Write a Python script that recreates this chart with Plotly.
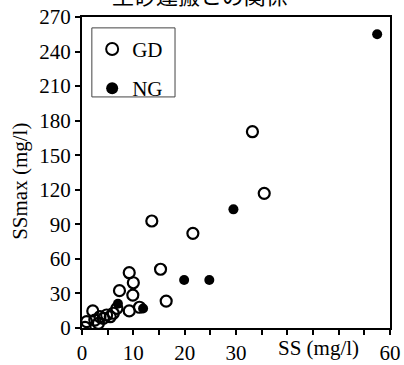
import plotly.graph_objects as go

# SS vs SSmax for the two sites (mg/l)
gd_ss = [0.6, 0.9, 2.1, 2.5, 3.2, 3.5, 4.15, 4.8, 5.5, 6.1, 6.8, 7.3, 9.2, 9.2,
         9.9, 10.0, 11.2, 13.6, 15.3, 16.4, 21.6, 33.2, 35.5]
gd_ssmax = [0.6, 5.5, 14.8, 6.9, 4.1, 9.8, 8.4, 11.3, 9.8, 12.8, 17.1, 32.4, 48.0, 14.8,
            28.6, 39.3, 18.0, 92.9, 51.0, 23.4, 82.2, 170.4, 116.9]

ng_ss = [7.0, 11.9, 19.9, 24.8, 29.5, 57.5]
ng_ssmax = [21.0, 17.0, 41.7, 41.7, 103.0, 255.0]

x_ticks = [0, 10, 20, 30, 60]
y_ticks = [0, 30, 60, 90, 120, 150, 180, 210, 240, 270]

serif = "Liberation Serif"

fig = go.Figure()
fig.add_trace(go.Scatter(
    x=gd_ss, y=gd_ssmax, mode="markers", name="GD", legendgroup="gd",
    marker=dict(symbol="circle-open", size=11, color="black",
                line=dict(width=2.2, color="black")),
))
fig.add_trace(go.Scatter(
    x=ng_ss, y=ng_ssmax, mode="markers", name="NG", legendgroup="ng",
    marker=dict(symbol="circle", size=10, color="black"),
))

axis_common = dict(
    ticks="outside", ticklen=5, tickwidth=2, tickcolor="black",
    showline=True, linewidth=2, linecolor="black", mirror=True,
    showgrid=False, zeroline=False, automargin=False,
    tickfont=dict(family=serif, size=21),
)

fig.update_layout(
    width=404, height=365,
    margin=dict(l=82, r=14, t=17, b=37),
    paper_bgcolor="white", plot_bgcolor="white",
    font=dict(family=serif, size=21, color="black"),
    showlegend=True,
    legend=dict(
        x=0.033, y=0.962, xanchor="left", yanchor="top",
        borderwidth=0, bgcolor="rgba(0,0,0,0)",
        font=dict(family=serif, size=21),
        itemsizing="constant", tracegroupgap=9, itemwidth=30,
    ),
    xaxis=dict(
        range=[0, 60], tickvals=x_ticks, ticktext=[str(v) for v in x_ticks],
        minor=dict(tickvals=[5, 15, 25, 35, 40, 45, 50, 55], ticks="outside",
                   ticklen=5, tickwidth=2, tickcolor="black"),
        **axis_common,
    ),
    yaxis=dict(range=[0, 270], tickvals=y_ticks, **axis_common),
    shapes=[
        # legend frame
        dict(type="rect", xref="paper", yref="paper",
             x0=0.032, x1=0.302, y0=0.743, y1=0.965,
             line=dict(color="#444", width=1), fillcolor="rgba(0,0,0,0)"),
    ],
    annotations=[
        dict(text="SS (mg/l)", xref="x", yref="paper", x=46, y=0,
             yshift=-6, xanchor="center", yanchor="top", showarrow=False,
             font=dict(family=serif, size=21)),
        dict(text="SSmax (mg/l)", xref="paper", yref="paper", x=0, y=0.47,
             xshift=-62, textangle=-90, xanchor="center", yanchor="middle",
             showarrow=False, font=dict(family=serif, size=21)),
        dict(text="土砂運搬との関係", xref="paper", yref="paper", x=0.382, y=1,
             yshift=5, xanchor="center", yanchor="bottom", showarrow=False,
             font=dict(family="Noto Sans CJK JP", size=22)),
    ],
)

fig.write_html("out.html")
